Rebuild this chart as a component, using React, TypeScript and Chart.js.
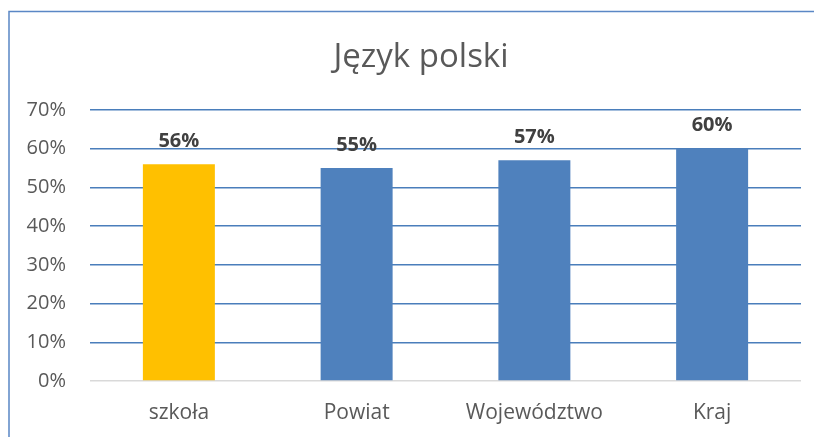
import React, { useEffect, useRef } from "react";
import { Chart, registerables } from "chart.js";

Chart.register(...registerables);

const title = "Język polski";
const categories = ["szkoła", "Powiat", "Województwo", "Kraj"];
const values = [56, 55, 57, 60];
const barColors = ["#FFC000", "#4F81BD", "#4F81BD", "#4F81BD"];
const yTicks = [0, 10, 20, 30, 40, 50, 60, 70];

const FONT = "'Open Sans', sans-serif";

const decorPlugin = {
  id: "decor",
  beforeDraw(chart: any) {
    const ctx = chart.ctx;
    ctx.save();
    ctx.fillStyle = "#ffffff";
    ctx.fillRect(0, 0, chart.width, chart.height);
    ctx.strokeStyle = "#5A87C5";
    ctx.lineWidth = 1.5;
    ctx.beginPath();
    ctx.moveTo(1, chart.height + 5);
    ctx.lineTo(1, 3.5);
    ctx.lineTo(chart.width + 5, 3.5);
    ctx.stroke();
    ctx.fillStyle = "#595959";
    ctx.font = `33px ${FONT}`;
    ctx.textAlign = "center";
    ctx.textBaseline = "middle";
    ctx.fillText(title, 413, 50);
    ctx.restore();
  },
  afterDatasetsDraw(chart: any) {
    const ctx = chart.ctx;
    const meta = chart.getDatasetMeta(0);
    ctx.save();
    ctx.fillStyle = "#404040";
    ctx.font = `bold 20px ${FONT}`;
    ctx.textAlign = "center";
    ctx.textBaseline = "middle";
    meta.data.forEach((bar: any, i: number) => {
      ctx.fillText(values[i] + "%", bar.x, bar.y - 23);
    });
    ctx.restore();
  },
};

export default function App() {
  const ref = useRef<HTMLCanvasElement>(null);
  useEffect(() => {
    if (!ref.current) return;
    const chart = new Chart(ref.current, {
      type: "bar",
      data: {
        labels: categories,
        datasets: [
          {
            data: values,
            backgroundColor: barColors,
            borderWidth: 0,
            categoryPercentage: 1,
            barPercentage: 0.405,
          },
        ],
      },
      options: {
        animation: false,
        responsive: false,
        layout: { padding: { top: 102, right: 21, left: 0, bottom: 0 } },
        plugins: { legend: { display: false }, tooltip: { enabled: false }, title: { display: false } },
        scales: {
          x: {
            grid: { display: false },
            border: { display: false },
            ticks: { color: "#595959", font: { family: FONT, size: 21 }, padding: 11 },
            afterFit(s: any) {
              s.height = 56;
            },
          },
          y: {
            min: 0,
            max: 70,
            afterBuildTicks(s: any) {
              s.ticks = yTicks.map((v) => ({ value: v }));
            },
            grid: {
              color: (c: any) => (c.tick && c.tick.value === 0 ? "#D9D9D9" : "#4A7EBB"),
              lineWidth: 1.5,
              drawTicks: false,
            },
            border: { display: false },
            ticks: {
              color: "#595959",
              font: { family: FONT, size: 20 },
              padding: 24,
              callback: (v: any) => v + "%",
            },
            afterFit(s: any) {
              s.width = 82;
            },
          },
        },
      },
      plugins: [decorPlugin],
    });
    return () => chart.destroy();
  }, []);
  return (
    <div style={{ width: 814, height: 429 }}>
      <canvas ref={ref} width={814} height={429} style={{ display: "block" }} />
    </div>
  );
}
